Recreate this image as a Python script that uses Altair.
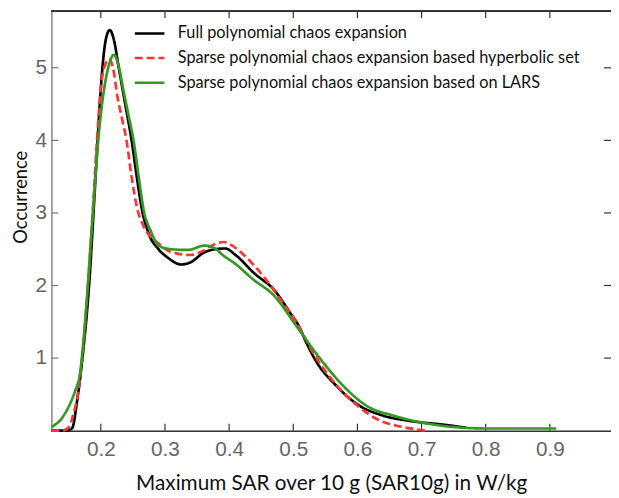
import altair as alt
import pandas as pd

series_names = [
    "Full polynomial chaos expansion",
    "Sparse polynomial chaos expansion based hyperbolic set",
    "Sparse polynomial chaos expansion based on LARS",
]
series_colors = ["#000000", "#ff3333", "#339922"]
series_dash = [[1, 0], [8, 4], [1, 0]]

full_x = [0.123, 0.145, 0.155, 0.1635, 0.1717, 0.182, 0.1897, 0.195, 0.2025, 0.208, 0.214, 0.22,
          0.228, 0.238, 0.248, 0.256, 0.264, 0.274, 0.29, 0.305, 0.325, 0.34, 0.36, 0.378, 0.394,
          0.41, 0.439, 0.47, 0.497, 0.507, 0.52, 0.536, 0.567, 0.602, 0.639, 0.685, 0.736, 0.77]
full_y = [0.0, 0.0, 0.03, 0.44, 1.03, 2.04, 3.17, 4.0, 5.0, 5.4, 5.52, 5.4,
          5.0, 4.5, 4.0, 3.5, 3.05, 2.73, 2.5, 2.38, 2.29, 2.32, 2.45, 2.5, 2.51,
          2.42, 2.17, 1.94, 1.6, 1.47, 1.22, 0.95, 0.62, 0.35, 0.21, 0.13, 0.08, 0.04]

hyp_x = [0.123, 0.14, 0.15, 0.158, 0.165, 0.172, 0.18, 0.188, 0.194, 0.201, 0.207, 0.213, 0.219,
         0.226, 0.233, 0.24, 0.248, 0.257, 0.265, 0.29, 0.31, 0.34, 0.36, 0.375, 0.392, 0.405,
         0.423, 0.454, 0.475, 0.505, 0.536, 0.567, 0.602, 0.63, 0.66, 0.69, 0.705]
hyp_y = [0.0, 0.0, 0.05, 0.25, 0.55, 1.1, 2.0, 3.1, 4.0, 4.8, 5.05, 5.12, 5.0,
         4.6, 4.3, 4.0, 3.5, 3.05, 2.85, 2.58, 2.46, 2.42, 2.48, 2.56, 2.6, 2.55,
         2.42, 2.12, 1.87, 1.49, 1.0, 0.63, 0.33, 0.16, 0.07, 0.02, 0.0]

lars_x = [0.123, 0.14, 0.151, 0.16, 0.167, 0.177, 0.1845, 0.19, 0.197, 0.205, 0.213, 0.2205, 0.227,
          0.235, 0.243, 0.251, 0.259, 0.267, 0.278, 0.29, 0.31, 0.335, 0.362, 0.378, 0.39, 0.408,
          0.438, 0.469, 0.505, 0.536, 0.582, 0.613, 0.659, 0.708, 0.75, 0.8, 0.91]
lars_y = [0.05, 0.18, 0.35, 0.55, 0.76, 1.67, 2.62, 3.3, 4.1, 4.7, 5.05, 5.18, 5.05,
          4.7, 4.35, 4.0, 3.5, 3.03, 2.75, 2.55, 2.5, 2.49, 2.55, 2.51, 2.42, 2.31,
          2.08, 1.87, 1.44, 1.06, 0.58, 0.35, 0.2, 0.1, 0.05, 0.03, 0.03]

x_ticks = [0.2, 0.3, 0.4, 0.5, 0.6, 0.7, 0.8, 0.9]
y_ticks = [1, 2, 3, 4, 5]

rows = []
for name, xs, ys in zip(series_names, [full_x, hyp_x, lars_x], [full_y, hyp_y, lars_y]):
    for i, (xv, yv) in enumerate(zip(xs, ys)):
        rows.append({"series": name, "x": xv, "y": yv, "idx": i})
df = pd.DataFrame(rows)

W, H = 567, 425
x_scale = alt.Scale(domain=[0.123, 0.9953], nice=False, zero=False)
y_scale = alt.Scale(domain=[0, 5.78], nice=False)
tick_font = "Liberation Sans"
title_font = "Lato"

legend_kw = dict(title=None, orient="none", legendX=83, legendY=6,
                 symbolType="stroke", symbolSize=900, symbolStrokeWidth=2.6,
                 labelFont=title_font, labelFontSize=16.5, labelColor="#111111",
                 labelOffset=12, rowPadding=-3.5, padding=0, labelLimit=500)

lines = alt.Chart(df).mark_line(strokeWidth=2.7, interpolate="monotone").encode(
    x=alt.X("x:Q", scale=x_scale,
            axis=alt.Axis(values=x_ticks, format=".1f", tickSize=0, domain=True,
                          domainColor="#333333", domainWidth=1.5, grid=False,
                          labelFont=tick_font, labelFontSize=21, labelColor="#666666",
                          labelPadding=8, title="Maximum SAR over 10 g (SAR10g) in W/kg",
                          titleFont=title_font, titleFontSize=21, titleFontWeight="normal",
                          titleColor="#111111", titlePadding=14)),
    y=alt.Y("y:Q", scale=y_scale,
            axis=alt.Axis(values=y_ticks, format="d", tickSize=0, domain=True,
                          domainColor="#888888", domainWidth=1.5, grid=False,
                          labelFont=tick_font, labelFontSize=21, labelColor="#666666",
                          labelPadding=5, title="Occurrence",
                          titleFont=title_font, titleFontSize=18.5, titleFontWeight="normal",
                          titleColor="#111111", titleX=-31, titleY=188,
                          titleAlign="center", titleBaseline="middle", titleAngle=270)),
    color=alt.Color("series:N", scale=alt.Scale(domain=series_names, range=series_colors),
                    legend=alt.Legend(**legend_kw)),
    strokeDash=alt.StrokeDash("series:N", scale=alt.Scale(domain=series_names, range=series_dash),
                              legend=alt.Legend(**legend_kw)),
    order="idx:Q",
)

xt = pd.DataFrame({"v": x_ticks})
yt = pd.DataFrame({"v": y_ticks})
tick_color = "#333333"
xb = alt.Chart(xt).mark_rule(color=tick_color, strokeWidth=1.2).encode(
    x=alt.X("v:Q", scale=x_scale), y=alt.value(H), y2=alt.value(H - 7))
xtop = alt.Chart(xt).mark_rule(color=tick_color, strokeWidth=1.2).encode(
    x=alt.X("v:Q", scale=x_scale), y=alt.value(0), y2=alt.value(7))
yl = alt.Chart(yt).mark_rule(color="#777777", strokeWidth=1.2).encode(
    y=alt.Y("v:Q", scale=y_scale), x=alt.value(0), x2=alt.value(7))
yr = alt.Chart(yt).mark_rule(color=tick_color, strokeWidth=1.2).encode(
    y=alt.Y("v:Q", scale=y_scale), x=alt.value(W), x2=alt.value(W - 7))
top_frame = alt.Chart(yt).mark_rule(color="#333333", strokeWidth=1.5).encode(
    x=alt.value(0), x2=alt.value(W), y=alt.value(0))

chart = alt.layer(top_frame, xb, xtop, yl, yr, lines).properties(
    width=W, height=H,
    autosize=alt.AutoSizeParams(type="none"),
    padding={"left": 44, "top": 0, "right": 0, "bottom": 65},
).configure_view(strokeWidth=0).configure(background="white")

chart.save("out.html", embed_options={"renderer": "svg", "actions": False})
